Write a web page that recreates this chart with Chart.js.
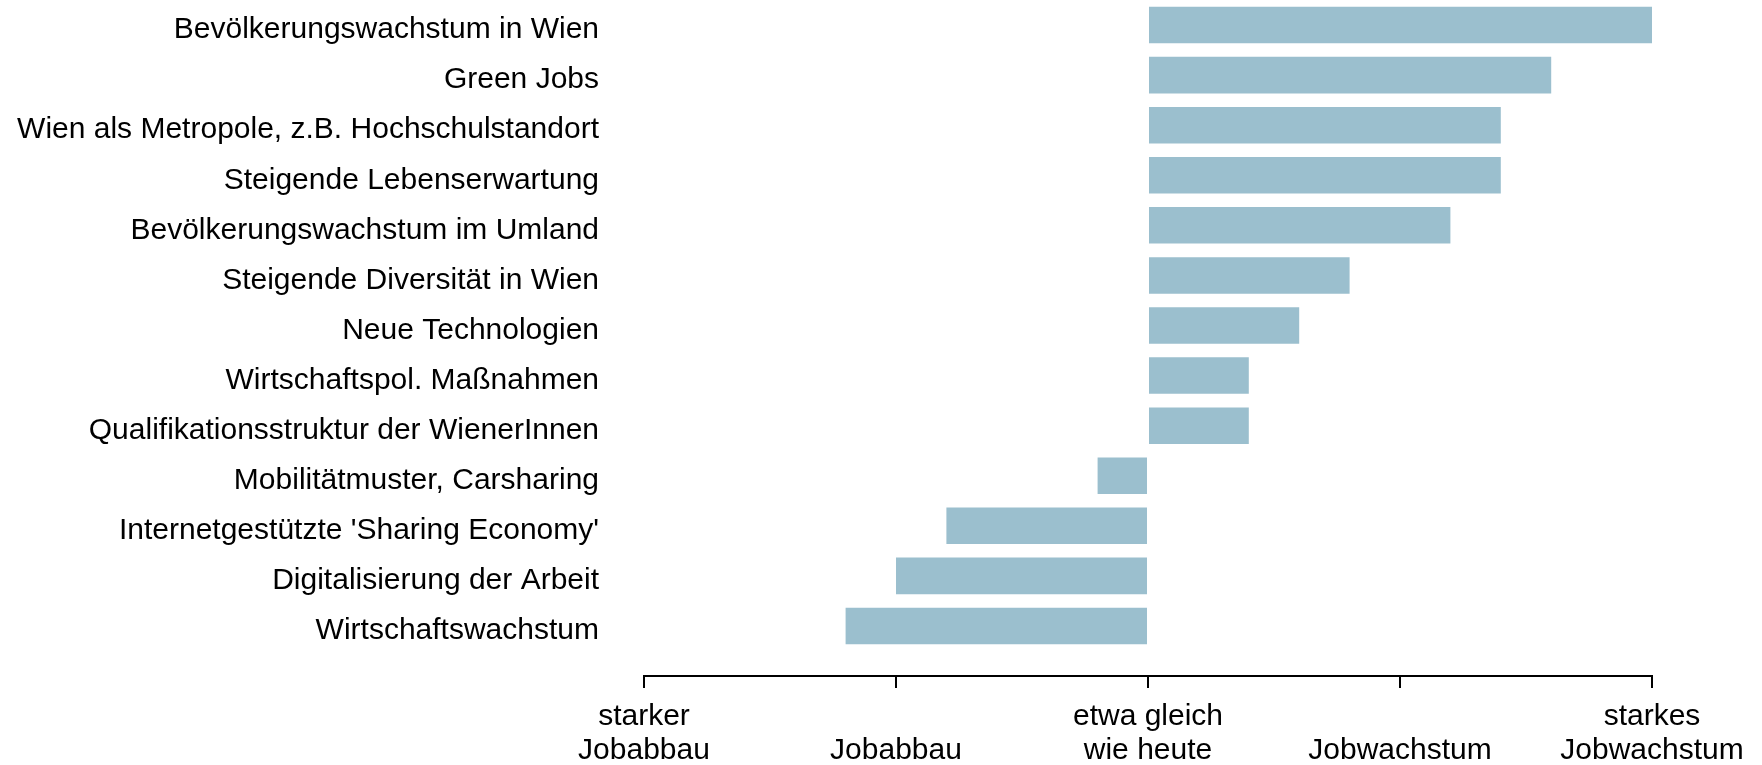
<!DOCTYPE html>
<html>
<head>
<meta charset="utf-8">
<script src="https://cdn.jsdelivr.net/npm/chart.js@4.4.1/dist/chart.umd.min.js"></script>
<style>
  html, body { margin: 0; padding: 0; background: #fff; }
  #wrap { width: 1762px; height: 765px; }
</style>
</head>
<body>
<div id="wrap"><canvas id="chart" width="1762" height="765"></canvas></div>
<script>
// Einflussfaktoren auf die Beschäftigung in Wien
const categories = [
    'Bevölkerungswachstum in Wien',
    'Green Jobs',
    'Wien als Metropole, z.B. Hochschulstandort',
    'Steigende Lebenserwartung',
    'Bevölkerungswachstum im Umland',
    'Steigende Diversität in Wien',
    'Neue Technologien',
    'Wirtschaftspol. Maßnahmen',
    'Qualifikationsstruktur der WienerInnen',
    'Mobilitätmuster, Carsharing',
    "Internetgestützte 'Sharing Economy'",
    'Digitalisierung der Arbeit',
    'Wirtschaftswachstum'
];
const values = [2.0, 1.6, 1.4, 1.4, 1.2, 0.8, 0.6, 0.4, 0.4, -0.2, -0.8, -1.0, -1.2];

// Skala von -2 (starker Jobabbau) bis +2 (starkes Jobwachstum)
const xTickLabels = [
    ['starker', 'Jobabbau'],
    ['', 'Jobabbau'],
    ['etwa gleich', 'wie heute'],
    ['', 'Jobwachstum'],
    ['starkes', 'Jobwachstum']
];

const fontFamily = '"Liberation Sans", Arial, sans-serif';
const barColor = '#9bbfce';

const ctx = document.getElementById('chart').getContext('2d');
new Chart(ctx, {
    type: 'bar',
    data: {
        labels: categories,
        datasets: [{
            data: values,
            backgroundColor: barColor,
            borderWidth: 0,
            barPercentage: 0.73,
            categoryPercentage: 1
        }]
    },
    options: {
        indexAxis: 'y',
        responsive: false,
        animation: false,
        layout: { padding: { left: 0, right: 110, top: 0, bottom: 114 } },
        plugins: {
            legend: { display: false },
            tooltip: { enabled: false }
        },
        scales: {
            y: {
                position: 'left',
                grid: { display: false, drawTicks: false },
                border: { display: false },
                ticks: {
                    color: '#000',
                    padding: 45,
                    labelOffset: 5,
                    font: { family: fontFamily, size: 30 }
                },
                afterFit: (scale) => {
                    // Achse soll bis x = -2 reichen, ohne oben/unten Platz zu reservieren
                    scale.width = 644;
                    scale.paddingTop = 0;
                    scale.paddingBottom = 0;
                }
            },
            x: {
                position: { y: 13 },
                min: -2,
                max: 2,
                grid: {
                    drawOnChartArea: false,
                    drawTicks: true,
                    tickLength: 11,
                    color: '#000',
                    lineWidth: 2
                },
                border: { display: true, color: '#000', width: 2 },
                ticks: {
                    stepSize: 1,
                    color: '#000',
                    padding: 13,
                    maxRotation: 0,
                    autoSkip: false,
                    font: { family: fontFamily, size: 30, lineHeight: 1.13 },
                    callback: (value) => xTickLabels[Math.round(value) + 2]
                }
            }
        }
    }
});
</script>
</body>
</html>
